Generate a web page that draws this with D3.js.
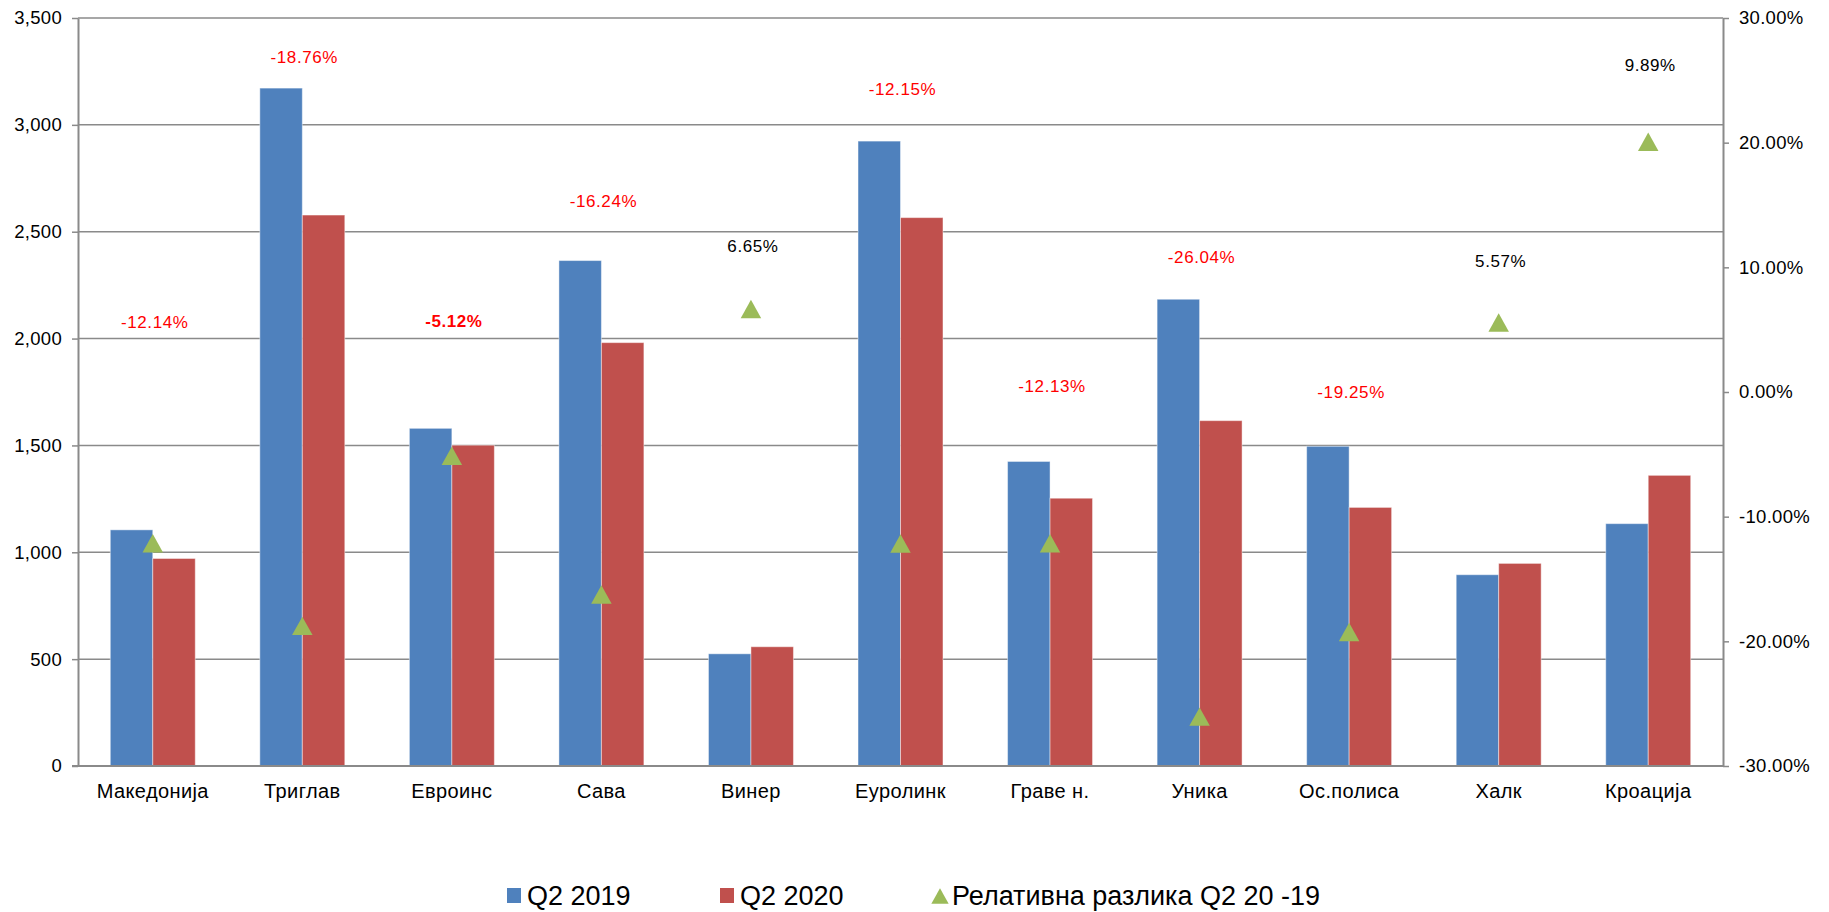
<!DOCTYPE html>
<html>
<head>
<meta charset="utf-8">
<script src="https://cdn.jsdelivr.net/npm/d3@7"></script>
<style>
body{margin:0;background:#fff;}
svg{display:block;font-family:"Liberation Sans",Arial,sans-serif;}
</style>
</head>
<body>
<script>
var categories=['Македонија','Триглав','Евроинс','Сава','Винер','Еуролинк','Граве н.','Уника','Ос.полиса','Халк','Кроација'];
var q2019=[1105,3172,1580,2365,525,2924,1425,2184,1496,895,1134];
var q2020=[971,2578,1501,1981,558,2566,1253,1616,1210,948,1360];
var relDiff=[-12.14,-18.76,-5.12,-16.24,6.65,-12.15,-12.13,-26.04,-19.25,5.57,20.07];
var relLabels=['-12.14%','-18.76%','-5.12%','-16.24%','6.65%','-12.15%','-12.13%','-26.04%','-19.25%','5.57%','9.89%'];
// where each label sits, read on the right axis
var labelAt=[5.6,26.9,5.7,15.3,11.7,24.3,0.5,10.8,0.0,10.5,26.2];
var leftTicks=[0,500,1000,1500,2000,2500,3000,3500];
var rightTicks=[-30,-20,-10,0,10,20,30];
var seriesNames=['Q2 2019','Q2 2020','Релативна разлика Q2 20 -19'];

var width=1829,height=912;
var mLeft=78,mRight=1723,mTop=18,mBottom=766;
var colors={'Q2 2019':'#4F81BD','Q2 2020':'#C0504D',tri:'#9BBB59'};

var svg=d3.select('body').append('svg')
.attr('width',width)
.attr('height',height);

var x=d3.scaleBand().domain(categories).range([mLeft,mRight]).padding(0);
var x1=d3.scaleBand().domain(['Q2 2019','Q2 2020']).range([0,x.bandwidth()]).paddingInner(0).paddingOuter(0.76);
var y=d3.scaleLinear().domain([0,3500]).range([mBottom,mTop]);
var y2=d3.scaleLinear().domain([-30,30]).range([mBottom,mTop]);

// gridlines
svg.append('g')
.selectAll('line')
.data(leftTicks)
.enter()
.append('line')
.attr('x1',mLeft).attr('x2',mRight)
.attr('y1',d=>y(d)).attr('y2',d=>y(d))
.style('stroke','#8a8a8a')
.style('stroke-width',1.5);

// bars
var rows=categories.map((c,i)=>({cat:c,vals:[{s:'Q2 2019',v:q2019[i]},{s:'Q2 2020',v:q2020[i]}]}));
var groups=svg.append('g').selectAll('g')
.data(rows)
.enter()
.append('g')
.attr('transform',d=>'translate('+x(d.cat)+',0)');

groups.selectAll('rect')
.data(d=>d.vals)
.enter()
.append('rect')
.attr('x',d=>x1(d.s))
.attr('y',d=>y(d.v))
.attr('width',x1.bandwidth())
.attr('height',d=>y(0)-y(d.v))
.style('fill',d=>colors[d.s])
.style('stroke','rgba(255,255,255,0.45)')
.style('stroke-width',1);

// axes
var leftAxis=d3.axisLeft(y)
.tickValues(leftTicks)
.tickSize(6)
.tickSizeOuter(0)
.tickFormat(d3.format(','));
var gl=svg.append('g').attr('transform','translate('+mLeft+',0)').call(leftAxis);

var rightAxis=d3.axisRight(y2)
.tickValues(rightTicks)
.tickSize(6)
.tickSizeOuter(0)
.tickFormat(d=>d.toFixed(2)+'%');
var gr=svg.append('g').attr('transform','translate('+mRight+',0)').call(rightAxis);

[gl,gr].forEach(g=>{
    g.select('.domain').style('stroke','#8a8a8a').style('stroke-width',2);
    g.selectAll('.tick line').style('stroke','#8a8a8a').style('stroke-width',1.5);
    g.selectAll('.tick text').style('font-size','18.5px').style('letter-spacing','0.3px').style('fill','#000')
    .style('font-family','"Liberation Sans",Arial,sans-serif');
});
gl.selectAll('.tick text').attr('x',-16);
gr.selectAll('.tick text').attr('x',16);

// baseline
svg.append('line')
.attr('x1',mLeft-6).attr('x2',mRight)
.attr('y1',y(0)).attr('y2',y(0))
.style('stroke','#8a8a8a')
.style('stroke-width',2);

// category labels
svg.append('g')
.selectAll('text')
.data(categories)
.enter()
.append('text')
.attr('x',d=>x(d)+x.bandwidth()/2)
.attr('y',mBottom+32)
.attr('text-anchor','middle')
.style('font-size','20px')
.style('letter-spacing','0.4px')
.style('fill','#000')
.text(d=>d);

// triangles
var triangle={draw:function(ctx,size){
    var w=Math.sqrt(size);
    var h=w*0.9;
    ctx.moveTo(0,-h/2);
    ctx.lineTo(w/2,h/2);
    ctx.lineTo(-w/2,h/2);
    ctx.closePath();
}};
svg.append('g')
.selectAll('path')
.data(relDiff)
.enter()
.append('path')
.attr('d',d3.symbol().type(triangle).size(420))
.attr('transform',(d,i)=>'translate('+(x(categories[i])+x.bandwidth()/2)+','+y2(d)+')')
.style('fill',colors.tri);

// value labels
svg.append('g')
.selectAll('text')
.data(relLabels)
.enter()
.append('text')
.attr('x',(d,i)=>x(categories[i])+x.bandwidth()/2+2)
.attr('y',(d,i)=>y2(labelAt[i])+6)
.attr('text-anchor','middle')
.style('font-size','17px')
.style('letter-spacing','0.6px')
.style('font-weight',(d,i)=>i==2?'bold':'normal')
.style('fill',(d,i)=>relDiff[i]<0?'#FF0000':'#000')
.text(d=>d);

// legend
var legendX=[507,720,932];
var legend=svg.append('g').attr('id','legend');
seriesNames.forEach((name,i)=>{
    var g=legend.append('g').attr('transform','translate('+legendX[i]+',896)');
    if(i<2){
        g.append('rect').attr('x',0).attr('y',-8).attr('width',14).attr('height',15)
        .style('fill',colors[name]);
    }else{
        g.append('path')
        .attr('d',d3.symbol().type(triangle).size(300))
        .attr('transform','translate(8,0)')
        .style('fill',colors.tri);
    }
    g.append('text')
    .attr('x',20)
    .attr('y',9)
    .style('font-size','27px')
    .style('font-family','"Liberation Sans Narrow","Arial Narrow",sans-serif')
    .style('fill','#000')
    .text(name);
});
</script>
</body>
</html>
